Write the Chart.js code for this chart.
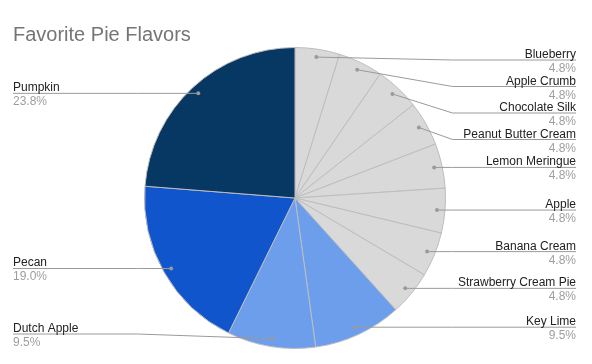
<!DOCTYPE html>
<html lang="en">
<head>
  <meta charset="UTF-8">
  <title>Favorite Pie Flavors</title>
  <script src="https://cdn.jsdelivr.net/npm/chart.js"></script>
  <style>
    body { margin: 0; padding: 0; background: #fff; }
    #wrap { width: 592px; height: 364px; }
  </style>
</head>
<body>
  <div id="wrap"><canvas id="pieChart" width="592" height="364"></canvas></div>

  <script>
    // data
    const flavors = ['Blueberry', 'Apple Crumb', 'Chocolate Silk', 'Peanut Butter Cream',
      'Lemon Meringue', 'Apple', 'Banana Cream', 'Strawberry Cream Pie', 'Key Lime',
      'Dutch Apple', 'Pecan', 'Pumpkin'];
    const shares = [4.8, 4.8, 4.8, 4.8, 4.8, 4.8, 4.8, 4.8, 9.5, 9.5, 19.0, 23.8];
    const sliceColors = ['#d9d9d9', '#d9d9d9', '#d9d9d9', '#d9d9d9', '#d9d9d9', '#d9d9d9',
      '#d9d9d9', '#d9d9d9', '#6d9eeb', '#6d9eeb', '#1155cc', '#073763'];

    const FONT = '"Liberation Sans", Arial, sans-serif';

    // leader lines + labels, google-charts style
    const sideLabels = {
      id: 'sideLabels',
      afterDatasetsDraw(chart) {
        const ctx = chart.ctx;
        const arcs = chart.getDatasetMeta(0).data;
        const right = [], left = [];
        arcs.forEach((arc, i) => {
          const mid = (arc.startAngle + arc.endAngle) / 2;
          const r = arc.outerRadius * 0.947;
          const item = {
            i: i,
            cx: arc.x, r0: arc.outerRadius,
            dx: arc.x + Math.cos(mid) * r,
            dy: arc.y + Math.sin(mid) * r
          };
          (item.dx >= arc.x ? right : left).push(item);
        });

        const gap = 26.5;
        const minY = 60, maxY = 334;
        function place(list) {
          list.sort((a, b) => a.dy - b.dy);
          let prev = -Infinity;
          list.forEach(it => {
            it.ly = Math.max(it.dy, prev + gap, minY);
            prev = it.ly;
          });
          let next = Infinity;
          for (let k = list.length - 1; k >= 0; k--) {
            list[k].ly = Math.min(list[k].ly, next - gap, maxY);
            next = list[k].ly;
          }
        }
        place(right);
        place(left);

        ctx.save();
        ctx.lineWidth = 1;

        function draw(it, isRight) {
          const edgeX = isRight ? 576 : 13;
          const kneeX = isRight ? it.cx + it.r0 + 7 : it.cx - it.r0 - 7;
          ctx.strokeStyle = '#9a9a9a';
          ctx.beginPath();
          ctx.moveTo(edgeX, it.ly);
          ctx.lineTo(kneeX, it.ly);
          ctx.lineTo(it.dx, it.dy);
          ctx.stroke();
          ctx.fillStyle = '#9a9a9a';
          ctx.beginPath();
          ctx.arc(it.dx, it.dy, 2, 0, Math.PI * 2);
          ctx.fill();

          ctx.textAlign = isRight ? 'right' : 'left';
          ctx.textBaseline = 'alphabetic';
          ctx.font = '12px ' + FONT;
          ctx.fillStyle = '#222222';
          ctx.fillText(flavors[it.i], edgeX, it.ly - 2);
          ctx.fillStyle = '#9e9e9e';
          ctx.fillText(shares[it.i].toFixed(1) + '%', edgeX, it.ly + 12);
        }
        right.forEach(it => draw(it, true));
        left.forEach(it => draw(it, false));
        ctx.restore();
      }
    };

    const ctx = document.getElementById('pieChart').getContext('2d');
    new Chart(ctx, {
      type: 'pie',
      data: {
        labels: flavors,
        datasets: [{
          data: shares,
          backgroundColor: sliceColors,
          borderColor: '#bdbdbd',
          borderWidth: 1
        }]
      },
      options: {
        responsive: false,
        animation: false,
        events: [],
        layout: { padding: { top: 11, bottom: 15, left: 13, right: 15 } },
        plugins: {
          legend: { display: false },
          tooltip: { enabled: false },
          title: {
            display: true,
            text: 'Favorite Pie Flavors',
            align: 'start',
            color: '#757575',
            font: { family: FONT, size: 20, weight: 'normal' },
            padding: { top: 12, bottom: 0 }
          }
        }
      },
      plugins: [sideLabels]
    });
  </script>
</body>
</html>
